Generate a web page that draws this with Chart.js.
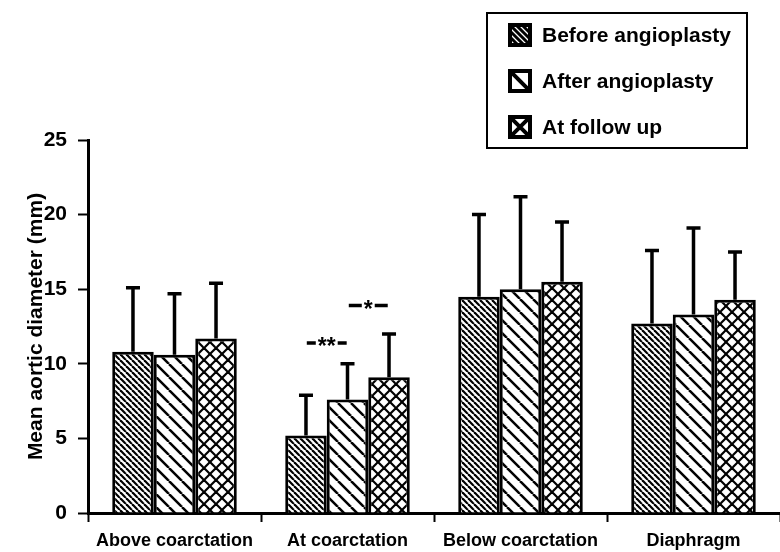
<!DOCTYPE html>
<html>
<head>
<meta charset="utf-8">
<script src="https://cdn.jsdelivr.net/npm/chart.js@4.4.0/dist/chart.umd.min.js"></script>
<style>
  html, body { margin: 0; padding: 0; background: #fff; }
  #wrap { width: 780px; height: 552px; }
</style>
</head>
<body>
<div id="wrap"><canvas id="chart" width="780" height="552"></canvas></div>
<script>
// data (mean and SD, mm)
const categories = ['Above coarctation', 'At coarctation', 'Below coarctation', 'Diaphragm'];
const seriesNames = ['Before angioplasty', 'After angioplasty', 'At follow up'];
const before = [10.8, 5.2, 14.5, 12.7];
const after = [10.6, 7.6, 15.0, 13.3];
const followUp = [11.7, 9.1, 15.5, 14.3];
const beforeSD = [4.3, 2.7, 5.5, 4.9];
const afterSD = [4.1, 2.4, 6.2, 5.8];
const followUpSD = [3.7, 2.9, 4.0, 3.2];
const yTicks = [0, 5, 10, 15, 20, 25];
// significance marks: category index, the two bars, height, label
const sigMarks = [
  { cat: 1, bars: [0, 1], y: 11.4, label: '**' },
  { cat: 1, bars: [1, 2], y: 13.9, label: '*' }
];

const FONT = '"Liberation Sans", Arial, Helvetica, sans-serif';

function hatch(spacing, width, cross) {
  const c = document.createElement('canvas');
  c.width = spacing; c.height = spacing;
  const g = c.getContext('2d');
  g.fillStyle = '#fff';
  g.fillRect(0, 0, spacing, spacing);
  g.strokeStyle = '#000';
  g.lineWidth = width;
  for (let k = -1; k <= 1; k++) {
    g.beginPath(); g.moveTo(k * spacing, 0); g.lineTo(k * spacing + spacing, spacing); g.stroke();
  }
  if (cross) {
    for (let k = 0; k <= 2; k++) {
      g.beginPath(); g.moveTo(k * spacing, 0); g.lineTo(k * spacing - spacing, spacing); g.stroke();
    }
  }
  return g.createPattern(c, 'repeat');
}

const patterns = [hatch(6, 2.2, false), hatch(13, 2.5, false), hatch(12, 2.2, true)];
const sds = [beforeSD, afterSD, followUpSD];

const errorBars = {
  id: 'errorBars',
  afterDatasetsDraw(chart) {
    const ctx = chart.ctx;
    const ys = chart.scales.y;
    ctx.save();
    ctx.strokeStyle = '#000';
    ctx.lineWidth = 3.5;
    chart.data.datasets.forEach((ds, i) => {
      chart.getDatasetMeta(i).data.forEach((bar, j) => {
        const top = ys.getPixelForValue(ds.data[j] + sds[i][j]);
        ctx.beginPath();
        ctx.moveTo(bar.x, bar.y);
        ctx.lineTo(bar.x, top);
        ctx.moveTo(bar.x - 7, top);
        ctx.lineTo(bar.x + 7, top);
        ctx.stroke();
      });
    });
    // significance marks
    ctx.font = 'bold 23px ' + FONT;
    ctx.fillStyle = '#000';
    ctx.textAlign = 'center';
    ctx.textBaseline = 'middle';
    ctx.lineWidth = 3.5;
    sigMarks.forEach(m => {
      const a = chart.getDatasetMeta(m.bars[0]).data[m.cat];
      const b = chart.getDatasetMeta(m.bars[1]).data[m.cat];
      const x = (a.x + b.x) / 2;
      const y = ys.getPixelForValue(m.y);
      const w = ctx.measureText(m.label).width;
      ctx.fillText(m.label, x, y + 5);
      const dash = m.label.length > 1 ? 9 : 13;
      ctx.beginPath();
      ctx.moveTo(x - w / 2 - 2 - dash, y); ctx.lineTo(x - w / 2 - 2, y);
      ctx.moveTo(x + w / 2 + 2, y); ctx.lineTo(x + w / 2 + 2 + dash, y);
      ctx.stroke();
    });
    ctx.restore();
  }
};

const boxLegend = {
  id: 'boxLegend',
  afterDraw(chart) {
    const ctx = chart.ctx;
    ctx.save();
    ctx.strokeStyle = '#000';
    ctx.lineWidth = 2;
    ctx.strokeRect(487, 13, 260, 135);
    ctx.font = 'bold 21px ' + FONT;
    ctx.fillStyle = '#000';
    ctx.textBaseline = 'middle';
    seriesNames.forEach((name, i) => {
      const cy = 35 + i * 46;
      const sx = 509, sy = cy - 11, s = 22;
      ctx.fillStyle = '#fff';
      ctx.fillRect(sx, sy, s, s);
      ctx.save();
      ctx.beginPath(); ctx.rect(sx, sy, s, s); ctx.clip();
      ctx.lineWidth = i === 0 ? 3 : 4;
      ctx.beginPath();
      if (i === 0) {
        for (let k = -3; k <= 3; k++) { ctx.moveTo(sx + k * 6, sy); ctx.lineTo(sx + k * 6 + s, sy + s); }
      } else {
        ctx.moveTo(sx, sy); ctx.lineTo(sx + s, sy + s);
        if (i === 2) { ctx.moveTo(sx + s, sy); ctx.lineTo(sx, sy + s); }
      }
      ctx.stroke();
      ctx.restore();
      ctx.lineWidth = 4;
      ctx.strokeRect(sx + 1, sy + 1, s - 2, s - 2);
      ctx.fillStyle = '#000';
      ctx.fillText(name, 542, cy + 1);
    });
    ctx.restore();
  }
};

new Chart(document.getElementById('chart'), {
  type: 'bar',
  data: {
    labels: categories,
    datasets: [
      { label: seriesNames[0], data: before, backgroundColor: patterns[0] },
      { label: seriesNames[1], data: after, backgroundColor: patterns[1] },
      { label: seriesNames[2], data: followUp, backgroundColor: patterns[2] }
    ].map(d => Object.assign(d, { borderColor: '#000', borderWidth: 3, categoryPercentage: 0.72, barPercentage: 1.0 }))
  },
  options: {
    responsive: false,
    animation: false,
    layout: { padding: { top: 140, left: 0, right: 0, bottom: 0 } },
    plugins: { legend: { display: false }, tooltip: { enabled: false } },
    scales: {
      x: {
        grid: { drawOnChartArea: false, drawTicks: true, tickLength: 9, tickWidth: 2, color: '#000', offset: true },
        border: { display: true, color: '#000', width: 3 },
        ticks: { color: '#000', font: { family: FONT, size: 18, weight: 'bold' }, padding: 8, maxRotation: 0, autoSkip: false },
        afterFit(s) { s.height = 39; }
      },
      y: {
        min: 0, max: 25,
        afterBuildTicks(s) { s.ticks = yTicks.map(v => ({ value: v })); },
        grid: { drawOnChartArea: false, drawTicks: true, tickLength: 10, tickWidth: 2, color: '#000' },
        border: { display: true, color: '#000', width: 3 },
        ticks: { color: '#000', font: { family: FONT, size: 21, weight: 'bold' }, padding: 11 },
        title: { display: true, text: 'Mean aortic diameter (mm)', color: '#000', font: { family: FONT, size: 21, weight: 'bold' }, padding: { top: 24, bottom: 0 } },
        afterFit(s) { s.width = 88; }
      }
    }
  },
  plugins: [errorBars, boxLegend]
});
</script>
</body>
</html>
